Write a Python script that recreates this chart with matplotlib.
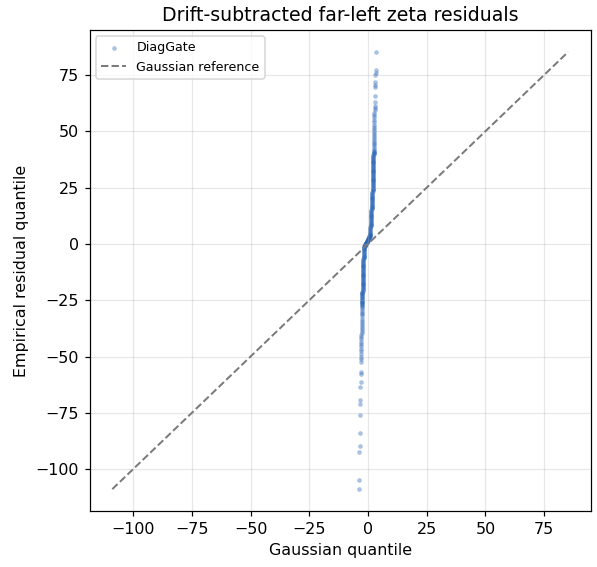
import matplotlib
matplotlib.use("Agg")
import matplotlib.pyplot as plt
import numpy as np

# sorted residuals vs Gaussian quantiles (x = gaussian q, y = residual q)
lower_tail_x = [-3.95, -3.78, -3.62, -3.52, -3.42, -3.34, -3.28, -3.23, -3.18, -3.14,
                -3.10, -3.07, -3.03, -3.00, -2.97, -2.94, -2.91, -2.88, -2.86, -2.84,
                -2.82, -2.80, -2.78, -2.76, -2.74, -2.72, -2.71, -2.69, -2.68, -2.66,
                -2.65, -2.64, -2.62, -2.60, -2.59, -2.57, -2.56]
lower_tail_y = [-108.9, -104.9, -92.3, -89.8, -84.1, -75.8, -71.3, -69.3, -63.4, -61.1,
                -57.6, -57.0, -52.6, -51.2, -50.1, -48.9, -47.7, -46.6, -45.4, -44.6,
                -43.5, -42.4, -41.3, -40.5, -39.6, -38.8, -37.9, -36.8, -36.0, -35.1,
                -34.3, -33.5, -32.2, -31.3, -30.6, -29.6, -28.9]

lower_core_x = [-2.54, -2.53, -2.52, -2.50, -2.49,
                -2.48, -2.47, -2.46, -2.44, -2.43, -2.42, -2.41, -2.40, -2.38, -2.37,
                -2.36, -2.35, -2.34, -2.32, -2.31, -2.30, -2.29, -2.28, -2.26, -2.25,
                -2.24, -2.23, -2.22, -2.20, -2.19, -2.18, -2.17, -2.16, -2.14, -2.13,
                -2.12, -2.11, -2.10, -2.08, -2.07, -2.06, -2.05, -2.04, -2.02, -2.01,
                -2.00, -1.99, -1.98, -1.96, -1.95, -1.94, -1.93, -1.92, -1.90, -1.89,
                -1.88, -1.87, -1.86, -1.84, -1.83, -1.82, -1.81, -1.79, -1.78, -1.77]
lower_core_y = [-28.0, -27.6, -27.2, -26.8, -26.4,
                -26.0, -25.6, -25.2, -24.8, -24.4, -24.0, -23.6, -23.2, -22.8, -22.4,
                -22.0, -21.6, -21.2, -20.8, -20.4, -20.0, -19.6, -19.2, -18.8, -18.4,
                -18.0, -17.6, -17.2, -16.8, -16.4, -16.0, -15.6, -15.2, -14.8, -14.4,
                -14.0, -13.6, -13.2, -12.8, -12.4, -12.0, -11.6, -11.2, -10.8, -10.4,
                -10.0, -9.6, -9.2, -8.8, -8.4, -8.0, -7.6, -7.2, -6.8, -6.4,
                -6.0, -5.6, -5.2, -4.8, -4.4, -4.0, -3.6, -3.2, -2.8, -2.4]

center_x = [-1.74, -1.68, -1.62, -1.56, -1.50, -1.44, -1.38, -1.32, -1.26, -1.20,
            -1.14, -1.08, -1.02, -0.96, -0.90, -0.84, -0.78, -0.72, -0.66, -0.60,
            -0.54, -0.48, -0.42, -0.36, -0.30, -0.24, -0.18, -0.12, -0.06, 0.00,
            0.06, 0.12, 0.18, 0.24, 0.30, 0.36, 0.42, 0.48, 0.54, 0.60,
            0.66, 0.72, 0.78, 0.84]
center_y = [-2.1, -1.8, -1.5, -1.3, -1.1, -0.9, -0.8, -0.6, -0.5, -0.4,
            -0.3, -0.2, -0.1, 0.0, 0.1, 0.2, 0.3, 0.5, 0.6, 0.7,
            0.8, 0.9, 1.0, 1.2, 1.3, 1.4, 1.5, 1.6, 1.7, 1.9,
            2.0, 2.2, 2.3, 2.5, 2.6, 2.8, 2.9, 3.1, 3.2, 3.4,
            3.5, 3.6, 3.8, 3.9]

upper_core_x = [0.90, 0.92, 0.94, 0.96, 0.98, 1.00, 1.02, 1.04, 1.06, 1.09,
                1.11, 1.13, 1.15, 1.17, 1.20, 1.22, 1.24, 1.26, 1.29, 1.31,
                1.33, 1.36, 1.38, 1.40, 1.43, 1.45, 1.48, 1.50, 1.53, 1.55,
                1.58, 1.61, 1.63, 1.66, 1.69, 1.71, 1.74, 1.76, 1.79, 1.81,
                1.83, 1.84, 1.86, 1.87, 1.89, 1.90, 1.91, 1.93, 1.94, 1.96,
                1.97, 1.99, 2.00, 2.02, 2.03, 2.04, 2.05, 2.06, 2.07, 2.08,
                2.09, 2.10, 2.11, 2.12, 2.13, 2.15, 2.16, 2.17, 2.18, 2.19,
                2.20, 2.21, 2.22, 2.23, 2.24, 2.25, 2.26, 2.27, 2.28, 2.29,
                2.29, 2.30, 2.31, 2.32, 2.33, 2.34, 2.35, 2.36, 2.36, 2.37,
                2.38, 2.39, 2.40, 2.41, 2.42]
upper_core_y = [4.2, 4.6, 5.0, 5.4, 5.8, 6.2, 6.6, 7.0, 7.4, 7.8,
                8.2, 8.6, 9.0, 9.4, 9.8, 10.2, 10.6, 11.0, 11.4, 11.8,
                12.2, 12.6, 13.0, 13.4, 13.8, 14.2, 14.6, 15.0, 15.4, 15.8,
                16.2, 16.6, 17.0, 17.4, 17.8, 18.2, 18.6, 19.0, 19.4, 19.8,
                20.2, 20.6, 21.0, 21.4, 21.8, 22.2, 22.6, 23.0, 23.4, 23.8,
                24.2, 24.6, 25.0, 25.4, 25.8, 26.2, 26.6, 27.0, 27.4, 27.8,
                28.2, 28.6, 29.0, 29.4, 29.8, 30.2, 30.6, 31.0, 31.4, 31.8,
                32.2, 32.6, 33.0, 33.4, 33.8, 34.2, 34.6, 35.0, 35.4, 35.8,
                36.2, 36.6, 37.0, 37.4, 37.8, 38.2, 38.6, 39.0, 39.4, 39.8,
                40.2, 40.6, 41.0, 41.4, 41.8]

upper_tail_x = [2.44, 2.46, 2.47, 2.49, 2.51, 2.53, 2.55, 2.57, 2.59, 2.61,
                2.63, 2.65, 2.67, 2.69, 2.71, 2.73, 2.75, 2.78, 2.81, 2.84,
                2.87, 2.91, 2.95, 3.00, 3.05, 3.10, 3.16, 3.23, 3.33, 3.60]
upper_tail_y = [42.6, 43.4, 44.2, 45.0, 45.9, 46.8, 47.5, 48.4, 49.3, 50.2,
                51.0, 52.1, 53.0, 54.1, 55.0, 56.2, 57.1, 58.3, 59.4, 60.3,
                61.2, 63.0, 65.5, 69.5, 70.5, 72.0, 75.0, 76.0, 77.2, 85.3]

gauss_q = np.concatenate([lower_tail_x, lower_core_x, center_x, upper_core_x, upper_tail_x])
resid_q = np.concatenate([lower_tail_y, lower_core_y, center_y, upper_core_y, upper_tail_y])

fig = plt.figure(figsize=(597 / 110, 567 / 110), dpi=110)
ax = fig.add_axes([89.5 / 597, 1 - 511 / 567, (591 - 89.5) / 597, (511 - 30) / 567])

ax.scatter(gauss_q, resid_q, s=9, color="#2a66b8", alpha=0.4, linewidths=0, label="DiagGate")

lo = min(gauss_q.min(), resid_q.min())
hi = max(gauss_q.max(), resid_q.max())
ax.plot([lo, hi], [lo, hi], "--", color="#7a7a7a", lw=1.3, label="Gaussian reference")

ax.set_title("Drift-subtracted far-left zeta residuals", fontsize=12.4)
ax.set_xlabel("Gaussian quantile", fontsize=10.4)
ax.set_ylabel("Empirical residual quantile", fontsize=10.4)
ax.tick_params(labelsize=10.4)
ax.grid(True, color="#b0b0b0", alpha=0.3, lw=0.8)
ax.legend(loc="upper left", fontsize=8.3)

fig.savefig("out.png", dpi=110)
